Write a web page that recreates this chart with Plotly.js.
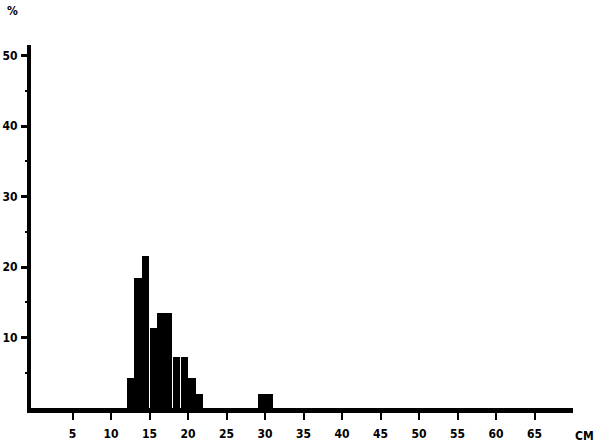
<!DOCTYPE html>
<html><head><meta charset="utf-8">
<script src="https://cdn.plot.ly/plotly-3.0.1.min.js"></script>
<style>html,body{margin:0;padding:0;background:#fff}#c{width:599px;height:447px}</style>
</head><body><div id="c"></div>
<script>
// Bin start (cm) and percentage
const binStart = [12, 13, 14, 15, 16, 17, 18, 19, 20, 21, 29, 30];
const percent  = [4.3, 18.4, 21.6, 11.3, 13.5, 13.5, 7.2, 7.2, 4.3, 2.0, 2.0, 2.0];
const xTicks = [5, 10, 15, 20, 25, 30, 35, 40, 45, 50, 55, 60, 65];
const yTicks = [10, 20, 30, 40, 50];
const xUnit = "CM";
const yUnit = "%";

const fam = "DejaVu Sans Condensed, Liberation Sans Narrow, DejaVu Sans, sans-serif";
const tf = {family: fam, size: 12, color: "#000", weight: "bold"};

const trace = {
  type: "bar",
  x: binStart.map(v => v + 0.5),
  y: percent,
  width: binStart.map(() => 0.94),
  marker: {color: "#000", line: {width: 0}},
  hoverinfo: "skip"
};

const layout = {
  width: 599, height: 447,
  margin: {l: 31, r: 26, t: 45, b: 39},
  paper_bgcolor: "#fff", plot_bgcolor: "#fff",
  showlegend: false,
  bargap: 0,
  font: tf,
  xaxis: {
    range: [-0.4, 70], showgrid: false, zeroline: false,
    showline: true, linecolor: "#000", linewidth: 5,
    ticks: "outside", ticklen: 7, tickwidth: 2, tickcolor: "#000",
    tickvals: xTicks, ticktext: xTicks.map(String),
    tickfont: tf,
    ticklabelstandoff: 4,
    fixedrange: true
  },
  yaxis: {
    range: [0, 51.5], showgrid: false, zeroline: false,
    showline: true, linecolor: "#000", linewidth: 4,
    ticks: "outside", ticklen: 6, tickwidth: 3, tickcolor: "#000",
    tickvals: yTicks, ticktext: yTicks.map(String),
    tickfont: tf,
    ticklabelstandoff: 1,
    minor: {tickvals: [5, 15, 25, 35, 45], ticks: "outside", ticklen: 2, tickwidth: 2, tickcolor: "#000"},
    fixedrange: true
  },
  annotations: [
    {text: xUnit, xref: "paper", yref: "paper", x: 1.022, y: -0.078, xanchor: "center", yanchor: "middle", showarrow: false, font: tf},
    {text: yUnit, xref: "paper", yref: "paper", x: -0.035, y: 1.095, xanchor: "center", yanchor: "middle", showarrow: false, font: tf}
  ]
};

Plotly.newPlot("c", [trace], layout, {staticPlot: true, displayModeBar: false});
</script>
</body></html>
